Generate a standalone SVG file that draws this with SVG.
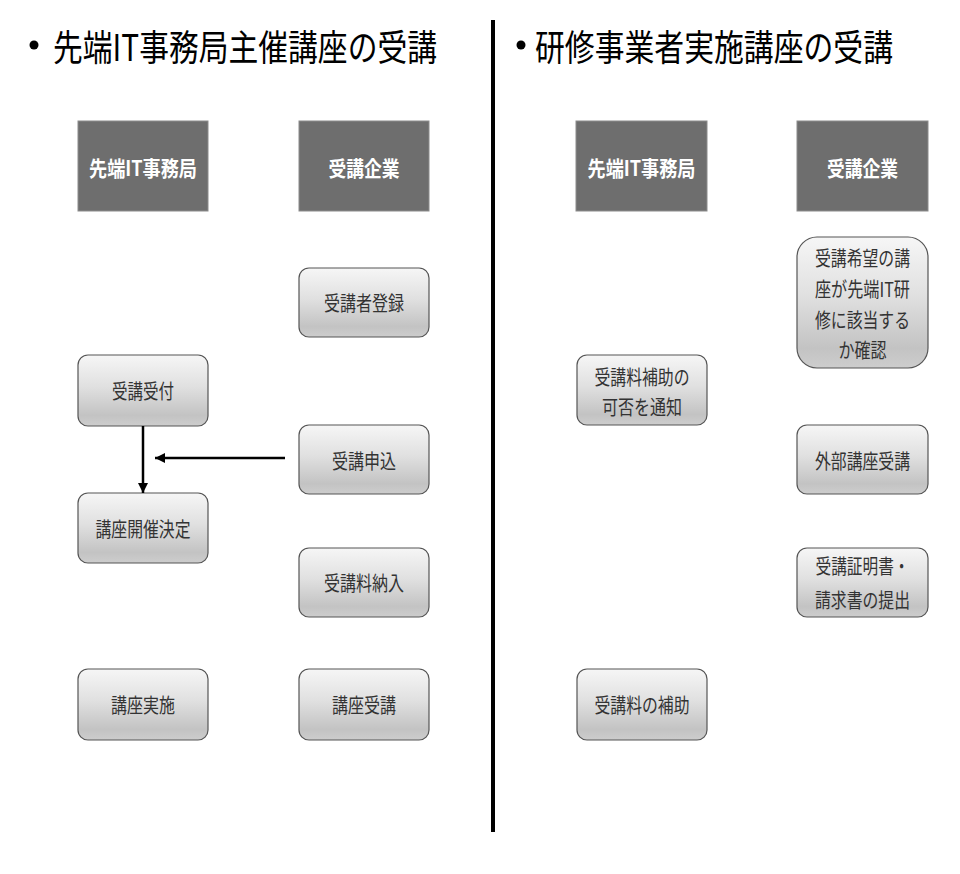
<svg xmlns="http://www.w3.org/2000/svg" width="960" height="874" viewBox="0 0 960 874">
<defs>
<linearGradient id="g" x1="0" y1="0" x2="0" y2="1">
<stop offset="0" stop-color="#f6f6f6"/>
<stop offset="0.45" stop-color="#e0e0e0"/>
<stop offset="0.85" stop-color="#c3c3c3"/>
<stop offset="1" stop-color="#cdcdcd"/>
</linearGradient>
<marker id="ah" viewBox="0 0 10 10" refX="10" refY="5" markerWidth="4" markerHeight="4" orient="auto" markerUnits="strokeWidth">
<path d="M0,0 L10,5 L0,10 Z" fill="#000"/>
</marker>
<style>
.t{font-family:"Noto Sans CJK JP",sans-serif;font-size:30px;fill:#000;dominant-baseline:central}
.h rect{fill:#6e6e6e;stroke:#8c8c8c;stroke-width:1}
.h text{font-family:"Noto Sans CJK JP",sans-serif;font-size:21px;font-weight:bold;fill:#fff;text-anchor:middle;dominant-baseline:central}
.n rect{fill:url(#g);stroke:#555;stroke-width:1.2}
.n text{font-family:"Noto Sans CJK JP",sans-serif;font-size:20px;fill:#333;text-anchor:middle;dominant-baseline:central}
.c line{stroke:#000;stroke-width:2.5;marker-end:url(#ah)}
</style>
</defs>
<rect width="960" height="874" fill="#fff"/>
<g id="title-left">
<circle cx="34" cy="45" r="4.5" fill="#000"/>
<text class="t" transform="translate(53,45) scale(1,1.23)" x="0" y="0" textLength="384" lengthAdjust="spacingAndGlyphs">先端IT事務局主催講座の受講</text>
</g>
<g id="title-right">
<circle cx="521" cy="45" r="4.5" fill="#000"/>
<text class="t" transform="translate(535,45) scale(1,1.23)" x="0" y="0" textLength="358" lengthAdjust="spacingAndGlyphs">研修事業者実施講座の受講</text>
</g>
<line id="divider" x1="493" y1="20" x2="493" y2="832" stroke="#000" stroke-width="4"/>
<g id="h-left-office" class="h"><rect x="78" y="121" width="130" height="90"/><text x="143" y="167" textLength="108" lengthAdjust="spacingAndGlyphs">先端IT事務局</text></g>
<g id="h-left-company" class="h"><rect x="299" y="121" width="130" height="90"/><text x="364" y="167" textLength="71" lengthAdjust="spacingAndGlyphs">受講企業</text></g>
<g id="h-right-office" class="h"><rect x="576" y="121" width="131" height="90"/><text x="641.5" y="167" textLength="108" lengthAdjust="spacingAndGlyphs">先端IT事務局</text></g>
<g id="h-right-company" class="h"><rect x="797" y="121" width="131" height="90"/><text x="862.5" y="167" textLength="71" lengthAdjust="spacingAndGlyphs">受講企業</text></g>
<g id="n-register" class="n"><rect x="299" y="268" width="130" height="69" rx="10"/><text x="364" y="302" textLength="80" lengthAdjust="spacingAndGlyphs">受講者登録</text></g>
<g id="n-accept" class="n"><rect x="78" y="355" width="130" height="71" rx="10"/><text x="143" y="390" textLength="62" lengthAdjust="spacingAndGlyphs">受講受付</text></g>
<g id="n-apply" class="n"><rect x="299" y="425" width="130" height="69" rx="10"/><text x="364" y="460" textLength="64" lengthAdjust="spacingAndGlyphs">受講申込</text></g>
<g id="n-decide" class="n"><rect x="78" y="493" width="130" height="70" rx="10"/><text x="143" y="528" textLength="95" lengthAdjust="spacingAndGlyphs">講座開催決定</text></g>
<g id="n-pay" class="n"><rect x="299" y="548" width="130" height="69" rx="10"/><text x="364" y="582" textLength="80" lengthAdjust="spacingAndGlyphs">受講料納入</text></g>
<g id="n-hold" class="n"><rect x="78" y="669" width="130" height="71" rx="10"/><text x="143" y="704" textLength="64" lengthAdjust="spacingAndGlyphs">講座実施</text></g>
<g id="n-attend" class="n"><rect x="299" y="669" width="130" height="71" rx="10"/><text x="364" y="704" textLength="64" lengthAdjust="spacingAndGlyphs">講座受講</text></g>
<g id="n-check" class="n"><rect x="797" y="237" width="131" height="131" rx="20"/>
<text x="862.5" y="257" textLength="95" lengthAdjust="spacingAndGlyphs">受講希望の講</text>
<text x="862.5" y="288" textLength="95" lengthAdjust="spacingAndGlyphs">座が先端IT研</text>
<text x="862.5" y="319" textLength="95" lengthAdjust="spacingAndGlyphs">修に該当する</text>
<text x="862.5" y="349" textLength="48" lengthAdjust="spacingAndGlyphs">か確認</text></g>
<g id="n-notify" class="n"><rect x="577" y="355" width="130" height="70" rx="10"/>
<text x="642" y="376" textLength="95" lengthAdjust="spacingAndGlyphs">受講料補助の</text>
<text x="642" y="406" textLength="80" lengthAdjust="spacingAndGlyphs">可否を通知</text></g>
<g id="n-external" class="n"><rect x="797" y="425" width="131" height="69" rx="10"/><text x="862.5" y="460" textLength="95" lengthAdjust="spacingAndGlyphs">外部講座受講</text></g>
<g id="n-submit" class="n"><rect x="797" y="548" width="131" height="69" rx="10"/>
<text x="862.5" y="565" textLength="94" lengthAdjust="spacingAndGlyphs">受講証明書・</text>
<text x="862.5" y="599" textLength="95" lengthAdjust="spacingAndGlyphs">請求書の提出</text></g>
<g id="n-subsidy" class="n"><rect x="577" y="669" width="130" height="71" rx="10"/><text x="642" y="704" textLength="95" lengthAdjust="spacingAndGlyphs">受講料の補助</text></g>
<g id="connectors" class="c">
<line x1="143" y1="426" x2="143" y2="493"/>
<line x1="285" y1="458" x2="155" y2="458"/>
</g>
</svg>
